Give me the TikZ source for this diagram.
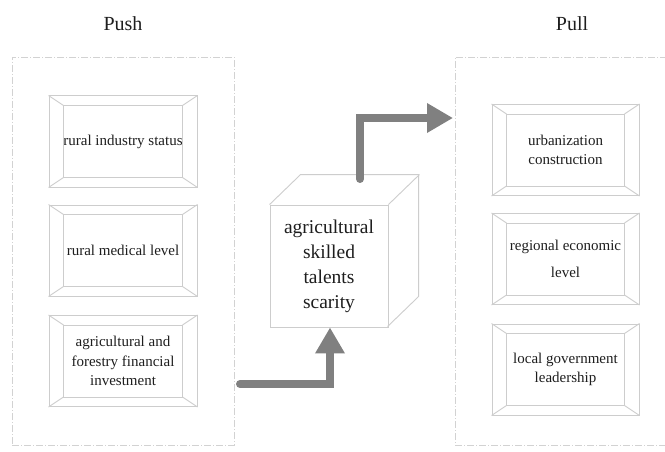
\documentclass[tikz,border=0pt]{standalone}
\usepackage{fontspec}
\setmainfont{Liberation Serif}
\usetikzlibrary{arrows.meta}
\definecolor{framegray}{RGB}{205,205,205}
\definecolor{dashgray}{RGB}{210,210,210}
\definecolor{arrowgray}{RGB}{128,128,128}
\definecolor{txt}{RGB}{30,30,30}
\tikzset{
  bevelbox/.style={draw=framegray, line width=1pt, minimum width=148pt, minimum height=91pt,
    inner sep=0pt, align=center, text=txt, font=\fontsize{15}{19.5}\selectfont},
  groupbox/.style={draw=dashgray, line width=0.8pt, dash pattern=on 7pt off 2pt on 1pt off 2pt},
  titletext/.style={text=txt, font=\fontsize{20}{24}\selectfont},
  cubeface/.style={draw=framegray, line width=0.9pt},
  flow/.style={draw=arrowgray, line width=8pt, line cap=round, line join=miter,
    -{Triangle[length=26pt,width=28pt]}},
}
\newcommand{\bevelframe}[1]{%
  \draw[framegray, line width=0.9pt]
    ([xshift=15pt,yshift=-10pt]#1.north west) coordinate (#1-a)
    rectangle ([xshift=-15pt,yshift=10pt]#1.south east) coordinate (#1-c);
  \draw[framegray, line width=0.9pt]
    (#1.north west) -- (#1-a)
    (#1.south east) -- (#1-c)
    (#1.north east) -- ([xshift=-15pt,yshift=-10pt]#1.north east)
    (#1.south west) -- ([xshift=15pt,yshift=10pt]#1.south west);
}
\begin{document}
\begin{tikzpicture}[x=1pt,y=-1pt]
\useasboundingbox (0,0) rectangle (665,452);
\fill[white] (0,0) rectangle (665,452);

% titles
\node[titletext] (pushtitle) at (123,24) {Push};
\node[titletext] (pulltitle) at (572,24) {Pull};

% group frames
\node[groupbox, minimum width=222pt, minimum height=388pt, inner sep=0pt] (pushgroup) at (123,251) {};
\node[groupbox, minimum width=230pt, minimum height=388pt, inner sep=0pt] (pullgroup) at (570,251) {};

% push factors
\node[bevelbox] (p1) at (123,141.5) {rural industry status};
\node[bevelbox] (p2) at (123,250.5) {rural medical level};
\node[bevelbox] (p3) at (123,361) {agricultural and\\forestry financial\\investment};
\bevelframe{p1}
\bevelframe{p2}
\bevelframe{p3}

% pull factors
\node[bevelbox, minimum width=147pt] (q1) at (565.5,150) {urbanization\\construction};
\node[bevelbox, minimum width=147pt, font=\fontsize{15}{27}\selectfont] (q2) at (565.5,259) {regional economic\\level};
\node[bevelbox, minimum width=147pt, font=\fontsize{15}{18.5}\selectfont] (q3) at (565.5,369.5) {local government\\leadership};
\bevelframe{q1}
\bevelframe{q2}
\bevelframe{q3}

% cube
\node[cubeface, minimum width=118pt, minimum height=122pt, inner sep=0pt, align=center,
  text=txt, font=\fontsize{19.5}{25}\selectfont] (cube) at (329,266)
  {agricultural\\skilled\\talents\\scarity};
\draw[cubeface] (cube.north west) -- ++(31,-30) -- ++(118,0) -- ++(0,122) -- ++(-31,30);
\draw[cubeface] (cube.north east) -- ++(31,-30);

% connectors
\coordinate (pushout) at (240,384);
\coordinate (cubetop) at (360,179);
\coordinate (pullin) at (453,118);
\draw[flow] (pushout) -- (330,384) -- (cube.south -| 330,0);
\draw[flow] (cubetop) -- (360,118) -- (pullin);
\end{tikzpicture}
\end{document}
